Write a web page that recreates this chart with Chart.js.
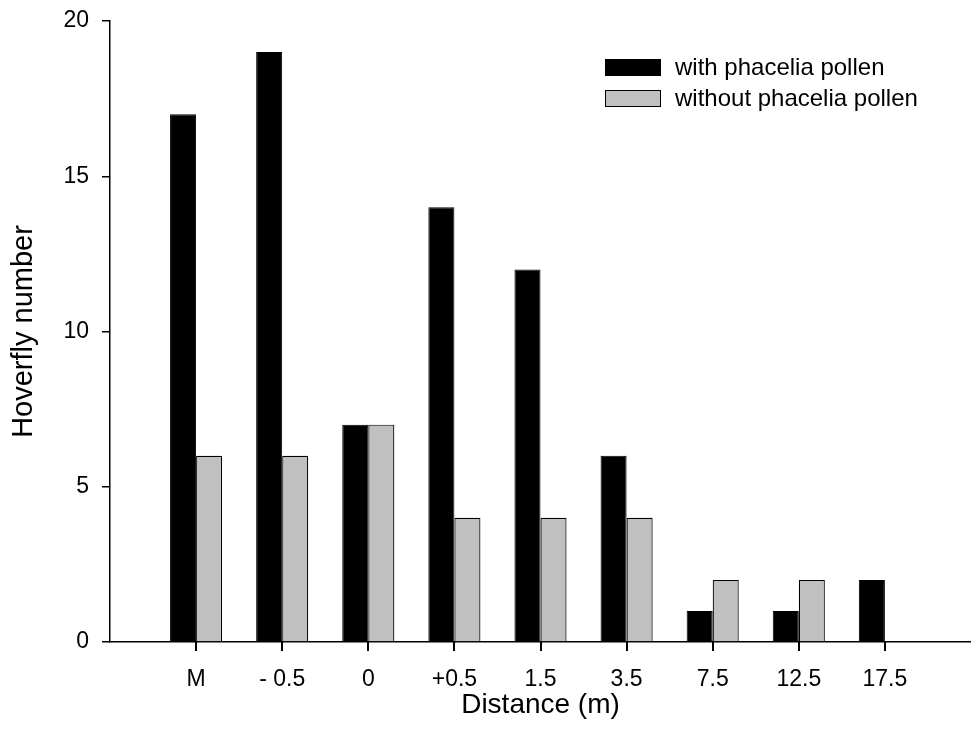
<!DOCTYPE html>
<html>
<head>
<meta charset="utf-8">
<script src="https://cdn.jsdelivr.net/npm/chart.js@4/dist/chart.umd.min.js"></script>
<style>
  html, body { margin: 0; padding: 0; background: #fff; }
  #wrap { width: 971px; height: 749px; position: relative; }
</style>
</head>
<body>
<div id="wrap"><canvas id="chart"></canvas></div>
<script>
// DATOS
const distances = ["M", "- 0.5", "0", "+0.5", "1.5", "3.5", "7.5", "12.5", "17.5"];
const withPollen = [17, 19, 7, 14, 12, 6, 1, 1, 2];
const withoutPollen = [6, 6, 7, 4, 4, 4, 2, 2, 0];
const yTicks = [0, 5, 10, 15, 20];
const seriesNames = ["with phacelia pollen", "without phacelia pollen"];

const FONT = "'Liberation Sans', Arial, Helvetica, sans-serif";

// empty slot on each side, like the original axis
const labels = ["", ...distances, " "];
const toPoints = (vals) => distances.map((d, i) => ({ x: d, y: vals[i] }));

// MARCAS DEL EJE X (una por categoria, posicion desde la escala)
const xTickMarks = {
    id: "xTickMarks",
    afterDraw(chart) {
        const s = chart.scales.x;
        const ctx = chart.ctx;
        ctx.save();
        ctx.fillStyle = "#000";
        distances.forEach((d) => {
            const px = Math.round(s.getPixelForValue(labels.indexOf(d)));
            ctx.fillRect(px - 1, Math.round(s.top), 2, 9);
        });
        ctx.restore();
    }
};

// LEYENDA (dibujada dentro del area)
const boxLegend = {
    id: "boxLegend",
    afterDraw(chart) {
        const ctx = chart.ctx;
        const x0 = 605, y0 = 59, bw = 56, bh = 17, gap = 31;
        ctx.save();
        chart.data.datasets.forEach((ds, i) => {
            const y = y0 + i * gap;
            ctx.fillStyle = ds.backgroundColor;
            ctx.fillRect(x0, y, bw, bh);
            ctx.lineWidth = 1;
            ctx.strokeStyle = "#000";
            ctx.strokeRect(x0 + 0.5, y + 0.5, bw - 1, bh - 1);
            ctx.fillStyle = "#000";
            ctx.font = `24px ${FONT}`;
            ctx.textBaseline = "middle";
            ctx.textAlign = "left";
            ctx.fillText(ds.label, x0 + 70, y + bh / 2 + 1);
        });
        ctx.restore();
    }
};

new Chart(document.getElementById("chart"), {
    type: "bar",
    data: {
        labels,
        datasets: [
            { label: seriesNames[0], data: toPoints(withPollen), backgroundColor: "#000000", borderColor: "#000000", borderWidth: 1 },
            { label: seriesNames[1], data: toPoints(withoutPollen), backgroundColor: "#c0c0c0", borderColor: "#000000", borderWidth: 1.2 }
        ]
    },
    options: {
        responsive: true,
        maintainAspectRatio: false,
        animation: false,
        datasets: { bar: { barPercentage: 1, categoryPercentage: 0.605 } },
        layout: { padding: { top: 21, right: 0, left: 0, bottom: 0 } },
        plugins: { legend: { display: false }, tooltip: { enabled: false } },
        scales: {
            x: {
                offset: false,
                afterFit: (s) => { s.height = 107; s.paddingLeft = 0; s.paddingRight = 0; },
                grid: {
                    offset: false,
                    drawOnChartArea: false,
                    tickLength: 9,
                    lineWidth: 1.5,
                    color: "#000",
                    tickColor: "rgba(0,0,0,0)"
                },
                border: { display: true, color: "#000", width: 1.5 },
                ticks: { color: "#000", font: { family: FONT, size: 23 }, padding: 15, autoSkip: false, maxRotation: 0 },
                title: { display: true, text: "Distance (m)", color: "#000", font: { family: FONT, size: 28 }, padding: { top: 0, bottom: 27 } }
            },
            y: {
                min: 0,
                max: 20,
                afterFit: (s) => { s.width = 110; s.paddingTop = 0; s.paddingBottom = 0; },
                afterBuildTicks: (s) => { s.ticks = yTicks.map(v => ({ value: v })); },
                grid: { drawOnChartArea: false, tickLength: 8, lineWidth: 1.5, color: "#000" },
                border: { display: true, color: "#000", width: 1.5 },
                ticks: { color: "#000", font: { family: FONT, size: 23 }, padding: 13 },
                title: { display: true, text: "Hoverfly number", color: "#000", font: { family: FONT, size: 29 }, padding: { top: 7, bottom: 0 } }
            }
        }
    },
    plugins: [xTickMarks, boxLegend]
});
</script>
</body>
</html>
